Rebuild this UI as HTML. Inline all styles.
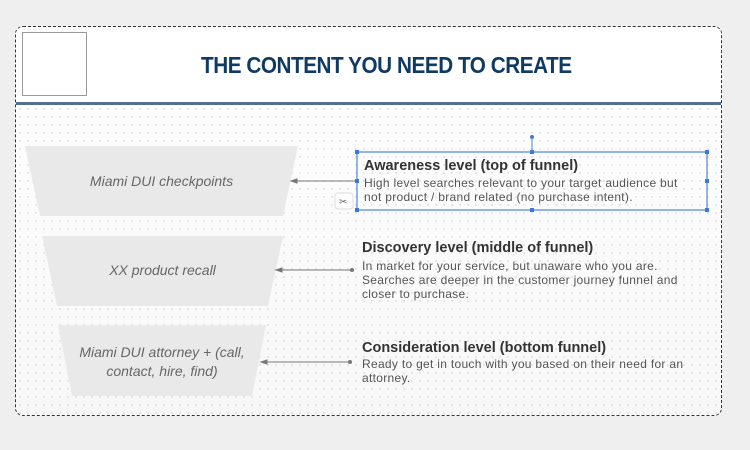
<!DOCTYPE html>
<html><head><style>
body{margin:0;width:750px;height:450px;background:#efefef;position:relative;overflow:hidden;font-family:"Liberation Sans",sans-serif}
.frame{position:absolute;left:15px;top:26px;width:705px;height:388px;border:1px dashed #333;border-radius:8px;overflow:hidden;background:linear-gradient(#fff,#f7f7f7);}
.hdr{position:absolute;left:0;top:0;width:100%;height:75px;background:#fff}
.line{position:absolute;left:0;top:75px;width:100%;height:3px;background:#4f6f96}
.dots{position:absolute;left:0;top:78px;width:100%;height:310px;background-image:radial-gradient(#dde0e5 0.8px,transparent 1px);background-size:8px 8px}
.logo{position:absolute;left:6px;top:5px;width:63px;height:62px;border:1px solid #999;background:#fff}
h1{position:absolute;left:185px;top:25px;margin:0;white-space:nowrap;font-size:23px;font-weight:900;color:#0f3a64;letter-spacing:-0.5px;transform:scaleX(0.9);transform-origin:left top}
.t{position:absolute;font-size:14.5px;font-weight:bold;color:#333;white-space:nowrap}
.b{position:absolute;font-size:12px;color:#555;line-height:14px;letter-spacing:0.3px;white-space:nowrap}
.lab{position:absolute;font-size:14px;font-style:italic;color:#666;text-align:center;line-height:19px}
</style></head><body>
<div class="frame"><div class="hdr"></div><div class="dots"></div><div class="line"></div><div class="logo"></div>
<h1>THE CONTENT YOU NEED TO CREATE</h1></div>
<svg style="position:absolute;left:0;top:0" width="750" height="450">
<polygon points="25,146 298,146 283,216 40,216" fill="#e9e9e9"/>
<polygon points="42,236 283,236 268,306 57,306" fill="#e9e9e9"/>
<polygon points="58,325 266,325 252,396 72,396" fill="#e9e9e9"/>
<g stroke="#777" stroke-width="1" fill="#777">
<line x1="292" y1="181" x2="356" y2="181"/><polygon points="291,181 297,179 297,183"/>
<line x1="277" y1="270" x2="352" y2="270"/><polygon points="276,270 282,268 282,272"/><circle cx="352" cy="270" r="1.5"/>
<line x1="262" y1="362" x2="350" y2="362"/><polygon points="261,362 267,360 267,364"/><circle cx="350" cy="362" r="1.5"/>
</g>
<rect x="357" y="152" width="350" height="58" fill="none" stroke="#4a86e0" stroke-width="1.2"/>
<g fill="#3b78d8"><rect x="355" y="150" width="4" height="4"/><rect x="530" y="150" width="4" height="4"/><rect x="705" y="150" width="4" height="4"/><rect x="355" y="179" width="4" height="4"/><rect x="705" y="179" width="4" height="4"/><rect x="355" y="208" width="4" height="4"/><rect x="530" y="208" width="4" height="4"/><rect x="705" y="208" width="4" height="4"/><circle cx="532" cy="137" r="2"/></g>
<line x1="532" y1="137" x2="532" y2="152" stroke="#4a86e0"/>
<rect x="335" y="193" width="18" height="16" rx="3" fill="#fff" stroke="#ddd"/>
<text x="339" y="205" font-size="10" fill="#666">✂</text>
</svg>
<div class="lab" style="left:25px;width:273px;top:172px">Miami DUI checkpoints</div>
<div class="lab" style="left:42px;width:241px;top:261px">XX product recall</div>
<div class="lab" style="left:58px;width:208px;top:343px">Miami DUI attorney + (call,<br>contact, hire, find)</div>
<div class="t" style="left:364px;top:158px">Awareness level (top of funnel)</div>
<div class="b" style="left:364px;top:176px">High level searches relevant to your target audience but<br>not product / brand related (no purchase intent).</div>
<div class="t" style="left:362px;top:240px">Discovery level (middle of funnel)</div>
<div class="b" style="left:362px;top:259px">In market for your service, but unaware who you are.<br>Searches are deeper in the customer journey funnel and<br>closer to purchase.</div>
<div class="t" style="left:362px;top:340px">Consideration level (bottom funnel)</div>
<div class="b" style="left:362px;top:357px">Ready to get in touch with you based on their need for an<br>attorney.</div>
</body></html>
